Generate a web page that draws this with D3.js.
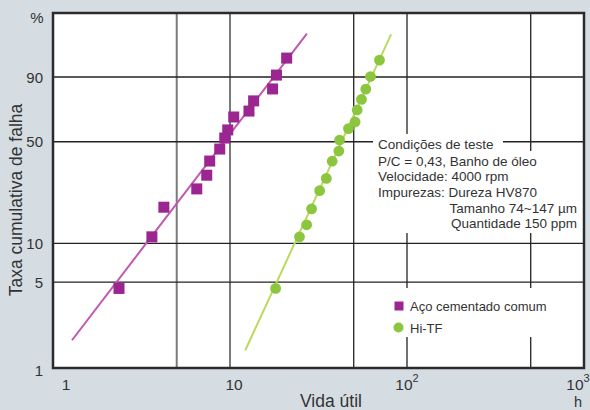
<!DOCTYPE html>
<html><head><meta charset="utf-8">
<script src="https://cdn.jsdelivr.net/npm/d3@7"></script>
<style>
html,body{margin:0;padding:0;background:#d5dde3;}
svg{display:block;font-family:"Liberation Sans",Arial,sans-serif;}
</style></head>
<body>
<svg id="chart" width="590" height="410"></svg>
<script>
// ---- data ----
const steelLife = [2.36, 3.62, 4.23, 6.49, 7.39, 7.68, 8.75, 9.34, 9.71, 10.5, 12.8, 13.6, 17.4, 18.3, 20.9];
const steelRate = [4.46, 11.2, 18.6, 25.1, 31.1, 38.4, 45.4, 52.4, 57.8, 66.6, 70.6, 77.2, 84.2, 90.8, 96.2];
const hitfLife  = [18.1, 24.7, 27.1, 28.9, 32.1, 35.0, 37.8, 41.2, 41.6, 46.7, 50.9, 52.3, 55.3, 58.5, 62.2, 69.9];
const hitfRate  = [4.46, 11.2, 13.8, 18.1, 24.4, 29.6, 38.3, 44.2, 51.1, 58.7, 63.2, 71.3, 78.1, 84.1, 90.2, 95.7];
const steelFitLife = [1.28, 27.2];
const steelFitRate = [1.73, 99.42];
const hitfFitLife  = [12.2, 81.3];
const hitfFitRate  = [1.44, 99.38];
const xTickValues = [1, 10, 100, 1000];
const xTickBase   = ["1", "10", "10", "10"];
const xTickSup    = ["", "", "2", "3"];
const xGridValues = [5, 10, 50, 100, 500];
const yTickValues = [1, 5, 10, 50, 90];
const seriesNames = ["Aço cementado comum", "Hi-TF"];
const conditionLines = ["P/C = 0,43, Banho de óleo", "Velocidade: 4000 rpm", "Impurezas: Dureza HV870"];
const conditionRight = ["Tamanho 74~147 µm", "Quantidade 150 ppm"];

// ---- layout ----
const L = 53, R = 584, T = 13, B = 368;
const svg = d3.select("#chart");
const weib = p => Math.log(-Math.log(1 - p / 100));
const x = d3.scaleLog().domain([1, 1000]).range([L, R]);
const y = d3.scaleLinear().domain([weib(1), weib(90)]).range([370, 77]);
const yp = p => y(weib(p));

const purple = "#9b2591", purpleLine = "#c158ae";
const green = "#8cc63f", greenLine = "#bcd95e";
const txt = "#333";

// plot background
svg.append("rect").attr("x", L).attr("y", T).attr("width", R - L).attr("height", B - T).attr("fill", "#fff");

// grid
svg.append("g").selectAll("line").data(xGridValues).join("line")
  .attr("x1", d => x(d)).attr("x2", d => x(d)).attr("y1", T).attr("y2", B)
  .attr("stroke", d => d < 20 ? "#7a7a7a" : "#222")
  .attr("stroke-width", d => d < 20 ? 2 : 1.3);
svg.append("g").selectAll("line").data(yTickValues.filter(d => d > 1)).join("line")
  .attr("x1", L).attr("x2", R).attr("y1", d => yp(d)).attr("y2", d => yp(d))
  .attr("stroke", "#222").attr("stroke-width", 1.3);

// white boxes behind annotation and legend
svg.append("rect").attr("x", 373).attr("y", 134).attr("width", 130).attr("height", 18).attr("fill", "#fff");
svg.append("rect").attr("x", 373).attr("y", 151).attr("width", 209).attr("height", 82).attr("fill", "#fff");
svg.append("rect").attr("x", 390).attr("y", 288).attr("width", 158).attr("height", 49).attr("fill", "#fff");

// frame
svg.append("rect").attr("x", L).attr("y", T).attr("width", R - L).attr("height", B - T)
  .attr("fill", "none").attr("stroke", "#2b2b2b").attr("stroke-width", 2.5);

// fit lines
const line = d3.line().x(d => x(d[0])).y(d => yp(d[1]));
svg.append("path").datum(d3.zip(steelFitLife, steelFitRate)).attr("d", line)
  .attr("stroke", purpleLine).attr("stroke-width", 2).attr("fill", "none");
svg.append("path").datum(d3.zip(hitfFitLife, hitfFitRate)).attr("d", line)
  .attr("stroke", greenLine).attr("stroke-width", 2).attr("fill", "none");

// markers
const sq = 11;
svg.append("g").selectAll("rect").data(d3.zip(steelLife, steelRate)).join("rect")
  .attr("x", d => x(d[0]) - sq / 2).attr("y", d => yp(d[1]) - sq / 2)
  .attr("width", sq).attr("height", sq).attr("fill", purple);
svg.append("g").selectAll("circle").data(d3.zip(hitfLife, hitfRate)).join("circle")
  .attr("cx", d => x(d[0])).attr("cy", d => yp(d[1])).attr("r", 5.4).attr("fill", green);

// y tick labels
svg.append("g").selectAll("text").data(yTickValues).join("text")
  .attr("x", 43).attr("y", d => yp(d) + 5.5).attr("text-anchor", "end")
  .attr("font-size", 15).attr("fill", txt).text(d => d);
svg.append("text").attr("x", 37).attr("y", 23).attr("text-anchor", "middle")
  .attr("font-size", 15).attr("fill", txt).text("%");

// x tick labels
const xOff = [13, 4, 0, -6];
xTickValues.forEach((v, i) => {
  const t = svg.append("text").attr("x", x(v) + xOff[i]).attr("y", 390)
    .attr("text-anchor", "middle").attr("font-size", 15.5).attr("fill", txt);
  t.append("tspan").text(xTickBase[i]);
  if (xTickSup[i]) t.append("tspan").attr("dy", -8).attr("font-size", 11).text(xTickSup[i]);
});
svg.append("text").attr("x", 578).attr("y", 407).attr("text-anchor", "middle")
  .attr("font-size", 14.5).attr("fill", txt).text("h");

// axis titles
svg.append("text").attr("x", 331).attr("y", 407).attr("text-anchor", "middle")
  .attr("font-size", 17.5).attr("fill", txt).text("Vida útil");
svg.append("text").attr("transform", "translate(22,200) rotate(-90)").attr("text-anchor", "middle")
  .attr("font-size", 17.5).attr("fill", txt).text("Taxa cumulativa de falha");

// annotation
svg.append("text").attr("x", 378).attr("y", 148.5).attr("font-size", 13.5).attr("fill", txt).text("Condições de teste");
svg.append("g").selectAll("text").data(conditionLines).join("text")
  .attr("x", 378).attr("y", (d, i) => 165.5 + i * 15.7).attr("font-size", 13.5).attr("fill", txt).text(d => d);
svg.append("g").selectAll("text").data(conditionRight).join("text")
  .attr("x", 577).attr("y", (d, i) => 212.5 + i * 15.5).attr("text-anchor", "end")
  .attr("font-size", 13.5).attr("fill", txt).text(d => d);

// legend
svg.append("rect").attr("x", 394.5).attr("y", 301.5).attr("width", 9).attr("height", 9).attr("fill", purple);
svg.append("circle").attr("cx", 398.5).attr("cy", 327.5).attr("r", 5).attr("fill", green);
svg.append("g").selectAll("text").data(seriesNames).join("text")
  .attr("x", 410).attr("y", (d, i) => 311 + i * 21.5).attr("font-size", 13).attr("fill", txt).text(d => d);
</script>
</body></html>
